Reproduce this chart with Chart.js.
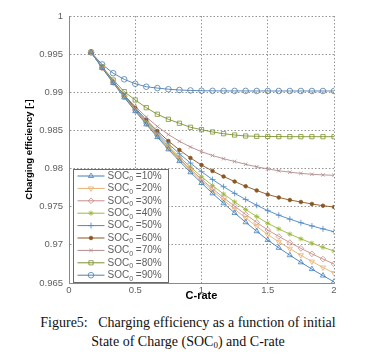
<!DOCTYPE html>
<html><head><meta charset="utf-8">
<script src="https://cdn.jsdelivr.net/npm/chart.js@4.4.1/dist/chart.umd.min.js"></script>
<style>
html,body{margin:0;padding:0;background:#fff;}
#wrap{position:relative;width:372px;height:305px;}
#cap{position:absolute;left:4px;top:313px;width:368px;text-align:center;font-family:'Liberation Serif','Times New Roman',serif;font-size:14px;line-height:19px;color:#111;}
#cap sub{font-size:9px;vertical-align:-2px;line-height:0;}
</style></head><body>
<div id="wrap"><canvas id="c" width="372" height="305"></canvas></div>
<div id="cap">Figure5:&nbsp;&nbsp; Charging efficiency as a function of initial<br>State of Charge (SOC<sub>0</sub>) and C-rate</div>
<script>
const cRate = [0.1667,0.25,0.3333,0.4167,0.5,0.5833,0.6667,0.75,0.8333,0.9167,1,1.0833,1.1667,1.25,1.3333,1.4167,1.5,1.5833,1.6667,1.75,1.8333,1.9167,2];
const soc10 = [0.99524,0.99319,0.99122,0.98933,0.98752,0.98579,0.98412,0.98252,0.98098,0.97951,0.97811,0.97675,0.97545,0.97418,0.97296,0.97178,0.97063,0.96961,0.96864,0.96771,0.96682,0.96597,0.96516];
const soc20 = [0.99524,0.99321,0.99126,0.98938,0.98758,0.98588,0.98425,0.98268,0.98118,0.97976,0.97840,0.97710,0.97586,0.97467,0.97352,0.97242,0.97135,0.97040,0.96950,0.96864,0.96782,0.96704,0.96630];
const soc30 = [0.99524,0.99323,0.99130,0.98944,0.98765,0.98595,0.98433,0.98279,0.98132,0.97993,0.97860,0.97736,0.97618,0.97506,0.97398,0.97295,0.97195,0.97110,0.97030,0.96954,0.96882,0.96814,0.96749];
const soc40 = [0.99524,0.99324,0.99133,0.98949,0.98772,0.98604,0.98445,0.98295,0.98153,0.98020,0.97894,0.97777,0.97667,0.97563,0.97464,0.97371,0.97283,0.97209,0.97141,0.97079,0.97021,0.96968,0.96920];
const soc50 = [0.99524,0.99326,0.99136,0.98954,0.98780,0.98618,0.98466,0.98325,0.98194,0.98072,0.97959,0.97856,0.97762,0.97675,0.97595,0.97519,0.97448,0.97389,0.97337,0.97290,0.97248,0.97209,0.97173];
const soc60 = [0.99524,0.99328,0.99139,0.98961,0.98794,0.98637,0.98493,0.98362,0.98244,0.98139,0.98047,0.97968,0.97896,0.97830,0.97768,0.97713,0.97660,0.97621,0.97588,0.97562,0.97536,0.97513,0.97496];
const soc70 = [0.99524,0.99330,0.99142,0.98964,0.98814,0.98676,0.98552,0.98447,0.98358,0.98283,0.98221,0.98171,0.98129,0.98093,0.98056,0.98023,0.97995,0.97971,0.97953,0.97937,0.97925,0.97917,0.97912];
const soc80 = [0.99524,0.99335,0.99161,0.99008,0.98899,0.98798,0.98712,0.98646,0.98594,0.98541,0.98510,0.98480,0.98457,0.98440,0.98427,0.98423,0.98421,0.98419,0.98418,0.98418,0.98418,0.98418,0.98418];
const soc90 = [0.99524,0.99365,0.99250,0.99170,0.99112,0.99073,0.99055,0.99040,0.99030,0.99024,0.99020,0.99019,0.99018,0.99018,0.99018,0.99017,0.99017,0.99017,0.99017,0.99017,0.99017,0.99017,0.99017];
const seriesNames = ['10%','20%','30%','40%','50%','60%','70%','80%','90%'];
const xTicks = [0,0.5,1,1.5,2];
const xTickLabels = ['0','0.5','1','1.5','2'];
const yTicks = [0.965,0.97,0.975,0.98,0.985,0.99,0.995,1];
const yTickLabels = ['0.965','0.97','0.975','0.98','0.985','0.99','0.995','1'];

const allSeries = [soc10,soc20,soc30,soc40,soc50,soc60,soc70,soc80,soc90];
const styles = [
  {c:'#3d7fc0', p:'triangle', r:3, fill:false},
  {c:'#e8b070', p:'triangle', r:3, fill:false, rot:180},
  {c:'#c98c86', p:'rectRot', r:2.8, fill:false},
  {c:'#98b83a', p:'star', r:2.6, fill:true},
  {c:'#4a88c6', p:'cross', r:3, fill:false},
  {c:'#8a5620', p:'circle', r:1.8, fill:true},
  {c:'#b38a8a', p:'crossRot', r:2.5, fill:false},
  {c:'#7b9230', p:'rect', r:3, fill:false},
  {c:'#4c7eae', p:'circle', r:2.8, fill:false}
];

const datasets = allSeries.map((vals,i)=>{
  const s = styles[i];
  return {
    label: 'SOC0 =' + seriesNames[i],
    data: vals.map((v,k)=>({x:cRate[k], y:v})),
    borderColor: s.c,
    borderWidth: 0.9,
    pointStyle: s.p,
    pointRadius: s.r,
    pointRotation: s.rot || 0,
    pointBorderColor: s.c,
    pointBorderWidth: 0.8,
    pointBackgroundColor: s.fill ? s.c : 'rgba(255,255,255,0)',
    tension: 0,
    fill: false
  };
});

function drawMarker(ctx, s, x, y){
  if (Chart.helpers && Chart.helpers.drawPoint){
    ctx.save();
    ctx.strokeStyle = s.c; ctx.fillStyle = s.fill ? s.c : 'rgba(255,255,255,0)';
    ctx.lineWidth = 0.8;
    Chart.helpers.drawPoint(ctx, {pointStyle:s.p, radius:s.r, rotation:s.rot||0, borderWidth:0.8}, x, y);
    ctx.restore();
  }
}

const insetLegend = {
  id:'insetLegend',
  afterDraw(chart){
    const ctx = chart.ctx, a = chart.chartArea;
    const x0 = a.left + 4.5, y0 = a.bottom - 113.5, w = 95, h = 113;
    ctx.save();
    ctx.fillStyle = '#fff';
    ctx.fillRect(x0, y0, w, h);
    ctx.strokeStyle = '#6a6a6a'; ctx.lineWidth = 1;
    ctx.strokeRect(x0, y0, w, h);
    for (let i=0;i<seriesNames.length;i++){
      const s = styles[i];
      const cy = y0 + 6.5 + i*12.4;
      ctx.strokeStyle = s.c; ctx.lineWidth = 1;
      ctx.beginPath(); ctx.moveTo(x0+4, cy); ctx.lineTo(x0+31, cy); ctx.stroke();
      drawMarker(ctx, s, x0+17.5, cy);
      let tx = x0 + 34;
      ctx.fillStyle = '#606060';
      ctx.textBaseline = 'middle'; ctx.textAlign = 'left';
      ctx.font = '10px "Liberation Sans", Arial, sans-serif';
      ctx.fillText('SOC', tx, cy);
      tx += ctx.measureText('SOC').width;
      ctx.font = '7px "Liberation Sans", Arial, sans-serif';
      ctx.fillText('0', tx, cy + 3.5);
      tx += ctx.measureText('0').width;
      ctx.font = '10px "Liberation Sans", Arial, sans-serif';
      ctx.fillText(' =' + seriesNames[i], tx, cy);
    }
    ctx.restore();
  }
};

const tickFont = {family:'"Liberation Sans", Arial, sans-serif', size:9.5};
new Chart(document.getElementById('c'), {
  type:'line',
  data:{datasets},
  plugins:[insetLegend],
  options:{
    responsive:false, animation:false, devicePixelRatio:1,
    layout:{padding:{left:0,right:38,top:16,bottom:0}},
    plugins:{legend:{display:false}, tooltip:{enabled:false}},
    scales:{
      x:{
        type:'linear', min:0, max:2,
        afterBuildTicks(s){ s.ticks = xTicks.map(v=>({value:v})); },
        afterFit(s){ s.height = 22; },
        ticks:{ padding:2, color:'#606060', font:tickFont, maxRotation:0, autoSkip:false,
          callback:(v,i)=>xTickLabels[i] },
        grid:{ color:'#7a7a7a', lineWidth:0.8, drawTicks:false },
        border:{ color:'#8a8a8a', width:1, dash:[1.5,2] },
        title:{ display:true, text:'C-rate', color:'#000',
          font:{family:'"Liberation Sans", Arial, sans-serif', size:11, weight:'bold'},
          padding:{top:0,bottom:2} }
      },
      y:{
        type:'linear', min:0.965, max:1,
        afterBuildTicks(s){ s.ticks = yTicks.map(v=>({value:v})); },
        afterFit(s){ s.width = 69; },
        ticks:{ padding:6, color:'#606060', font:tickFont, autoSkip:false,
          callback:(v,i)=>yTickLabels[i] },
        grid:{ color:'#7a7a7a', lineWidth:0.8, drawTicks:false },
        border:{ color:'#8a8a8a', width:1, dash:[1.5,2] },
        title:{ display:true, text:'Charging efficiency [-]', color:'#000',
          font:{family:'"Liberation Sans Narrow", "Liberation Sans", Arial, sans-serif', size:9.5, weight:'bold'},
          padding:{top:24,bottom:0} }
      }
    }
  }
});
</script>
</body></html>
